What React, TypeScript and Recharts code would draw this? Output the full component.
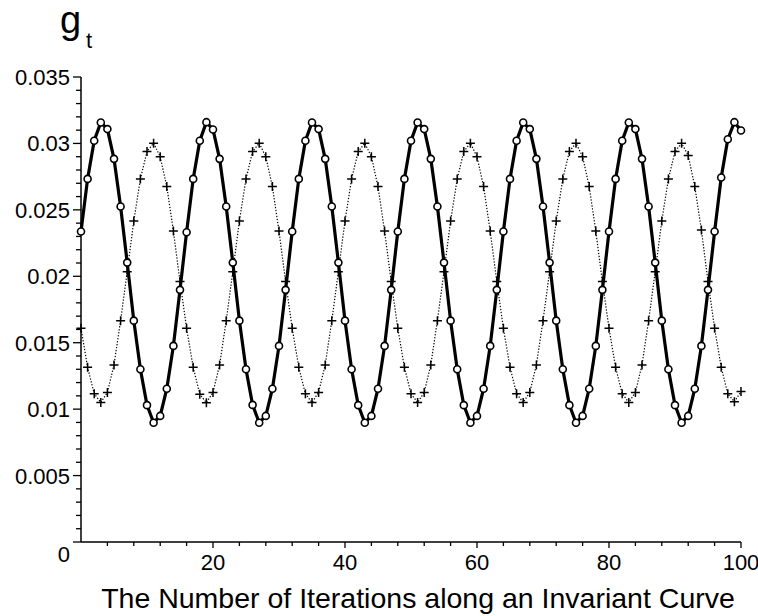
import { LineChart, Line, XAxis, YAxis } from "recharts";

// iteration index 0..100
const ITERATIONS = Array.from({ length: 101 }, (_, i) => i);

// g_t along the invariant curve (circles, solid line)
const G_CIRCLES = [
  0.02337, 0.02733, 0.0302, 0.03158, 0.03108, 0.02884, 0.02525, 0.02103, 0.01666, 0.013, 0.0103, 0.00898, 0.00949, 0.01154, 0.01476, 0.01898,
  0.02332, 0.02733, 0.0302, 0.0316, 0.03105, 0.02884, 0.02525, 0.02103, 0.01666, 0.013, 0.01032, 0.00898, 0.00949, 0.01154, 0.01476, 0.01898,
  0.02337, 0.02733, 0.0302, 0.03158, 0.03108, 0.02884, 0.02525, 0.02103, 0.01666, 0.013, 0.0103, 0.00898, 0.00949, 0.01154, 0.01476, 0.01898,
  0.02337, 0.02733, 0.0302, 0.03158, 0.03108, 0.02884, 0.02525, 0.02103, 0.01666, 0.013, 0.0103, 0.00898, 0.00949, 0.01154, 0.01476, 0.01898,
  0.02337, 0.02733, 0.0302, 0.03158, 0.03108, 0.02884, 0.02525, 0.02103, 0.01666, 0.013, 0.0103, 0.00898, 0.00949, 0.01154, 0.01476, 0.01898,
  0.02337, 0.02733, 0.0302, 0.03158, 0.03108, 0.02884, 0.02525, 0.02103, 0.01666, 0.013, 0.0103, 0.00898, 0.00949, 0.01154, 0.01476, 0.01898,
  0.02337, 0.02743, 0.03032, 0.0316, 0.03097,
];

// second series (crosses, dotted line)
const G_CROSSES = [
  0.01609, 0.01315, 0.01116, 0.0105, 0.01126, 0.01333, 0.01666, 0.02035, 0.02417, 0.02733, 0.02939, 0.03002, 0.029, 0.02675, 0.0234, 0.0196,
  0.01609, 0.01315, 0.01112, 0.01049, 0.01126, 0.01333, 0.01666, 0.02035, 0.02417, 0.02733, 0.02939, 0.03002, 0.029, 0.02675, 0.0234, 0.0196,
  0.01609, 0.01315, 0.01116, 0.0105, 0.01126, 0.01333, 0.01666, 0.02035, 0.02417, 0.02733, 0.02939, 0.03002, 0.029, 0.02675, 0.0234, 0.0196,
  0.01609, 0.01315, 0.01116, 0.0105, 0.01126, 0.01333, 0.01666, 0.02035, 0.02417, 0.02733, 0.02939, 0.03002, 0.029, 0.02675, 0.0234, 0.0196,
  0.01609, 0.01315, 0.01116, 0.0105, 0.01126, 0.01333, 0.01666, 0.02035, 0.02417, 0.02733, 0.02939, 0.03002, 0.029, 0.02675, 0.0234, 0.0196,
  0.01609, 0.01315, 0.01116, 0.0105, 0.01126, 0.01333, 0.01666, 0.02035, 0.02417, 0.02733, 0.02939, 0.03002, 0.0291, 0.02675, 0.02349, 0.0196,
  0.01609, 0.01315, 0.01116, 0.01056, 0.01132,
];

const Y_LABELS = ["0", "0.005", "0.01", "0.015", "0.02", "0.025", "0.03", "0.035"];
const X_LABELS = [20, 40, 60, 80, 100];
const X_TITLE = "The Number of Iterations along an Invariant Curve";

const X_TICKS = Array.from({ length: 26 }, (_, i) => i * 4);
const Y_TICKS = Array.from({ length: 36 }, (_, i) => i / 1000);

const FONT = "'Liberation Sans', Arial, sans-serif";

const data = ITERATIONS.map((n, i) => ({ n, circ: G_CIRCLES[i], cross: G_CROSSES[i] }));

const XTick = (p: any) => {
  const { x, y, payload } = p;
  const v = payload.value;
  if (v === 0) return <g />;
  const major = X_LABELS.includes(v);
  return (
    <g>
      <line x1={x} x2={x} y1={y} y2={y + (major ? 6 : 4)} stroke="#000" strokeWidth={1.3} />
      {major && (
        <text x={x} y={y + 28} textAnchor="middle" fontSize={22} fontFamily={FONT} fill="#000">
          {v}
        </text>
      )}
    </g>
  );
};

const YTick = (p: any) => {
  const { x, y, payload } = p;
  const k = Math.round(payload.value * 1000);
  const major = k % 5 === 0;
  return (
    <g>
      <line x1={x - (major ? 8 : 5)} x2={x} y1={y} y2={y} stroke="#000" strokeWidth={1.3} />
      {major && (
        <text x={x - 11} y={k === 0 ? y + 20 : y + 8} textAnchor="end" fontSize={22} fontFamily={FONT} fill="#000">
          {Y_LABELS[k / 5]}
        </text>
      )}
    </g>
  );
};

const CircleDot = (p: any) => {
  const { cx, cy, index } = p;
  return <circle key={`c${index}`} cx={cx} cy={cy} r={3.5} fill="#fff" stroke="#000" strokeWidth={1.6} />;
};

const CrossDot = (p: any) => {
  const { cx, cy, index } = p;
  return (
    <path key={`x${index}`} d={`M${cx - 4.5},${cy}H${cx + 4.5}M${cx},${cy - 4.5}V${cy + 4.5}`} stroke="#000" strokeWidth={1.5} fill="none" />
  );
};

export default function App() {
  return (
    <div style={{ position: "absolute", left: 0, top: 0, width: 758, height: 616, background: "#fff" }}>
      <LineChart width={758} height={616} data={data} margin={{ top: 77, right: 17, bottom: 0, left: 0 }}>
        <XAxis
          dataKey="n"
          type="number"
          domain={[0, 100]}
          ticks={X_TICKS}
          interval={0}
          tickSize={0}
          tickMargin={0}
          tickLine={false}
          tick={<XTick />}
          height={74}
          axisLine={{ stroke: "#000", strokeWidth: 1.5 }}
          label={{
            content: (lp: any) => {
              const vb = lp.viewBox;
              return (
                <text x={vb.x + vb.width / 2 + 7} y={vb.y + 66} textAnchor="middle" fontSize={28.5} fontFamily={FONT} fill="#000">
                  {X_TITLE}
                </text>
              );
            },
          }}
        />
        <YAxis
          type="number"
          domain={[0, 0.035]}
          ticks={Y_TICKS}
          interval={0}
          tickSize={0}
          tickMargin={0}
          tickLine={false}
          tick={<YTick />}
          width={81}
          axisLine={{ stroke: "#000", strokeWidth: 1.5 }}
          label={{
            content: (lp: any) => {
              const vb = lp.viewBox;
              return (
                <g>
                  <text x={60} y={vb.y - 44} fontSize={38} fontFamily={FONT} fill="#000">g</text>
                  <text x={86} y={vb.y - 29} fontSize={22} fontFamily={FONT} fill="#000">t</text>
                </g>
              );
            },
          }}
        />
        <Line
          type="linear"
          dataKey="cross"
          stroke="#000"
          strokeWidth={1.2}
          strokeDasharray="1.3 1.7"
          dot={CrossDot}
          activeDot={false}
          isAnimationActive={false}
        />
        <Line
          type="linear"
          dataKey="circ"
          stroke="#000"
          strokeWidth={3.2}
          dot={CircleDot}
          activeDot={false}
          isAnimationActive={false}
        />
      </LineChart>
    </div>
  );
}
